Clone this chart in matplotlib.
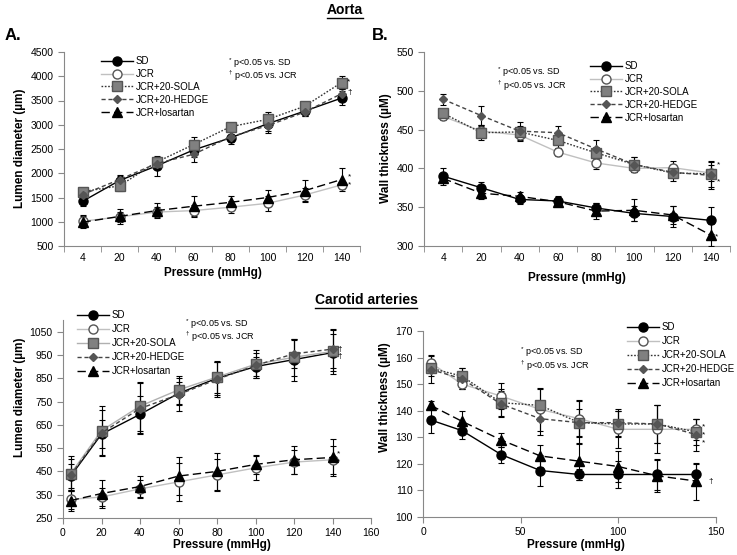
import matplotlib
matplotlib.use("Agg")
import matplotlib.pyplot as plt
import numpy as np
from matplotlib.lines import Line2D

plt.rcParams['font.family'] = ['Liberation Sans', 'DejaVu Sans']
plt.rcParams['mathtext.fontset'] = 'custom'
plt.rcParams['mathtext.rm'] = 'Liberation Sans'

W, H = 737, 555

groups = ["SD", "JCR", "JCR+20-SOLA", "JCR+20-HEDGE", "JCR+losartan"]
pressure_labels = ["4", "20", "40", "60", "80", "100", "120", "140"]
pressure = [4, 20, 40, 60, 80, 100, 120, 140]

# aorta lumen diameter (um)
aorta_lumen = {
    "SD": [1420, 1850, 2150, 2480, 2730, 3020, 3280, 3550],
    "JCR": [1010, 1100, 1200, 1230, 1300, 1380, 1550, 1760],
    "JCR+20-SOLA": [1620, 1740, 2230, 2590, 2960, 3110, 3380, 3870],
    "JCR+20-HEDGE": [1560, 1870, 2200, 2390, 2750, 2980, 3260, 3640],
    "JCR+losartan": [990, 1110, 1230, 1320, 1400, 1500, 1640, 1870],
}
aorta_lumen_err = {
    "SD": [100, 100, 200, 150, 120, 150, 100, 150],
    "JCR": [120, 100, 100, 120, 120, 160, 150, 80],
    "JCR+20-SOLA": [60, 100, 80, 150, 60, 150, 60, 140],
    "JCR+20-HEDGE": [60, 100, 80, 150, 100, 150, 80, 100],
    "JCR+losartan": [120, 150, 150, 220, 130, 150, 220, 230],
}

# aorta wall thickness
aorta_wall = {
    "SD": [390, 375, 360, 358, 349, 342, 338, 333],
    "JCR": [467, 448, 443, 421, 407, 400, 401, 394],
    "JCR+20-SOLA": [471, 446, 447, 436, 420, 405, 394, 393],
    "JCR+20-HEDGE": [489, 468, 448, 446, 425, 405, 395, 391],
    "JCR+losartan": [387, 368, 364, 357, 345, 346, 340, 314],
}
aorta_wall_err = {
    "SD": [11, 7, 6, 7, 7, 10, 14, 17],
    "JCR": [5, 8, 8, 5, 8, 5, 8, 10],
    "JCR+20-SOLA": [5, 10, 8, 10, 8, 10, 10, 17],
    "JCR+20-HEDGE": [7, 13, 12, 8, 11, 10, 8, 17],
    "JCR+losartan": [6, 8, 6, 6, 10, 14, 12, 14],
}

# carotid lumen diameter
carotid_lumen = {
    "SD": [430, 610, 695, 785, 850, 900, 930, 960],
    "JCR": [330, 340, 375, 405, 435, 465, 490, 500],
    "JCR+20-SOLA": [440, 625, 730, 800, 855, 910, 940, 965],
    "JCR+20-HEDGE": [435, 615, 720, 780, 845, 905, 955, 975],
    "JCR+losartan": [325, 355, 385, 430, 450, 480, 500, 510],
}
carotid_lumen_err = {
    "SD": [50, 60, 80, 50, 70, 40, 90, 80],
    "JCR": [40, 40, 40, 80, 70, 50, 50, 60],
    "JCR+20-SOLA": [75, 105, 105, 60, 70, 60, 80, 95],
    "JCR+20-HEDGE": [70, 100, 110, 70, 75, 55, 60, 80],
    "JCR+losartan": [45, 60, 45, 80, 80, 40, 60, 80],
}

# carotid wall thickness
carotid_wall = {
    "SD": [136.5, 132.5, 123.5, 117.5, 116, 116, 116, 116],
    "JCR": [158, 150, 145.5, 140.5, 137, 133, 133, 133],
    "JCR+20-SOLA": [156, 153, 143, 142, 135.5, 135, 135, 132],
    "JCR+20-HEDGE": [155.5, 152, 142.5, 137, 135.5, 135.5, 135, 131],
    "JCR+losartan": [142, 136, 129, 123, 121, 119, 115.5, 113.5],
}
carotid_wall_err = {
    "SD": [5, 3, 3, 6, 2, 5, 6, 4],
    "JCR": [3, 2, 5, 8, 7, 7, 9, 4],
    "JCR+20-SOLA": [3, 3, 5, 6, 8, 5, 7, 5],
    "JCR+20-HEDGE": [5, 4, 5, 6, 5, 5, 7, 6],
    "JCR+losartan": [1.5, 4, 2.5, 4, 7, 6, 6, 7],
}

styles = {
    "SD": dict(color="black", ls="-", lw=1.0, marker="o", ms=6.5, mfc="black", mec="black"),
    "JCR": dict(color="#c0c0c0", ls="-", lw=1.0, marker="o", ms=6.5, mfc="white", mec="#555555"),
    "JCR+20-SOLA": dict(color="#333333", ls=(0, (1.2, 1.2)), lw=1.0, marker="s", ms=6.5, mfc="#808080", mec="#555555"),
    "JCR+20-HEDGE": dict(color="#444444", ls=(0, (3, 2)), lw=1.0, marker="D", ms=4.5, mfc="#555555", mec="#555555"),
    "JCR+losartan": dict(color="black", ls=(0, (6, 3)), lw=1.0, marker="^", ms=6.5, mfc="black", mec="black"),
}


def px_axes(l, t, r, b):
    return fig.add_axes([l / W, 1 - b / H, (r - l) / W, (b - t) / H])


def style_axes(ax):
    for s in ["top", "right"]:
        ax.spines[s].set_visible(False)
    for s in ["left", "bottom"]:
        ax.spines[s].set_color("#888888")
        ax.spines[s].set_linewidth(0.8)
    ax.tick_params(direction="out", length=4, color="#888888", labelsize=7.5, width=0.8)


def get_style(g, carotid_sola):
    st = dict(styles[g])
    if carotid_sola and g == "JCR+20-SOLA":
        st["color"] = "#b0b0b0"
        st["ls"] = "-"
    return st


def draw_series(ax, x, data, err, carotid_sola=False):
    for g in groups:
        st = get_style(g, carotid_sola)
        ax.errorbar(x, data[g], yerr=err[g], ecolor="black", elinewidth=0.8,
                    capsize=2.5, capthick=0.8, zorder=3, **st)


def add_legend(ax, x, y, spacing=0.3, carotid_sola=False):
    handles = [Line2D([], [], **get_style(g, carotid_sola)) for g in groups]
    ax.legend(handles, groups, loc="upper left", bbox_to_anchor=(x / W, 1 - y / H),
              bbox_transform=fig.transFigure, frameon=False, fontsize=7, numpoints=1,
              handlelength=3.3, handletextpad=0.3, labelspacing=spacing, borderaxespad=0,
              borderpad=0)


def sig_text(ax, x, y, s):
    ax.text(x, y, s, fontsize=6, ha="left", va="center", zorder=5)


def note(ax, x, y, gap):
    ax.text(x, y, r"$^{*}$ p<0.05 vs. SD", transform=ax.transAxes, fontsize=6.5, va="center")
    ax.text(x, y - gap, r"$^{\dagger}$ p<0.05 vs. JCR", transform=ax.transAxes, fontsize=6.5, va="center")


fig = plt.figure(figsize=(W / 100, H / 100), dpi=100)

# --- A: aorta lumen
axA = px_axes(64, 52, 360, 246)
xc = np.arange(len(pressure_labels))
draw_series(axA, xc, aorta_lumen, aorta_lumen_err)
axA.set_xlim(-0.5, 7.5)
axA.set_ylim(500, 4500)
axA.set_yticks(np.arange(500, 4501, 500))
axA.set_xticks(xc)
axA.set_xticklabels(pressure_labels)
axA.set_xticks(np.arange(-0.5, 8, 1), minor=True)
style_axes(axA)
axA.tick_params(axis="x", which="major", length=0, pad=5)
axA.tick_params(axis="x", which="minor", length=4, color="#888888")
add_legend(axA, 101, 56)
note(axA, 0.555, 0.945, 0.068)
sig_text(axA, 7.15, 3880, "*")
sig_text(axA, 7.15, 3660, "†")
sig_text(axA, 7.18, 1920, "*")
sig_text(axA, 7.18, 1760, "*")

# --- B: aorta wall
axB = px_axes(424, 52, 730, 246)
draw_series(axB, xc, aorta_wall, aorta_wall_err)
axB.set_xlim(-0.5, 7.5)
axB.set_ylim(300, 550)
axB.set_yticks(np.arange(300, 551, 50))
axB.set_xticks(xc)
axB.set_xticklabels(pressure_labels)
axB.set_xticks(np.arange(-0.5, 8, 1), minor=True)
style_axes(axB)
axB.tick_params(axis="x", which="major", length=0, pad=5)
axB.tick_params(axis="x", which="minor", length=4, color="#888888")
add_legend(axB, 590, 61)
note(axB, 0.24, 0.895, 0.068)
sig_text(axB, 7.15, 404, "*")
sig_text(axB, 7.15, 382, "*")
sig_text(axB, 7.1, 312, "*")

# --- C: carotid lumen
axC = px_axes(63, 320, 371, 518)
draw_series(axC, pressure, carotid_lumen, carotid_lumen_err, carotid_sola=True)
axC.set_xlim(0, 160)
axC.set_ylim(250, 1100)
axC.set_yticks(np.arange(250, 1051, 100))
axC.set_xticks(np.arange(0, 161, 20))
style_axes(axC)
add_legend(axC, 77, 310, spacing=0.42, carotid_sola=True)
note(axC, 0.395, 0.98, 0.067)
sig_text(axC, 142.5, 975, "†")
sig_text(axC, 142.5, 942, "†")
sig_text(axC, 142.5, 524, "*")
sig_text(axC, 142.5, 490, "*")

# --- D: carotid wall
axD = px_axes(423, 331, 716, 517)
draw_series(axD, pressure, carotid_wall, carotid_wall_err)
axD.set_xlim(0, 150)
axD.set_ylim(100, 170)
axD.set_yticks(np.arange(100, 171, 10))
axD.set_xticks(np.arange(0, 151, 50))
style_axes(axD)
add_legend(axD, 627, 322, spacing=0.42)
note(axD, 0.331, 0.887, 0.075)
sig_text(axD, 143, 134, "*")
sig_text(axD, 143, 131, "*")
sig_text(axD, 143, 128, "*")
sig_text(axD, 146, 113.5, "†")

# labels and titles
def ftext(x, y, s, **kw):
    return fig.text(x / W, 1 - y / H, s, **kw)

ftext(213, 273, "Pressure (mmHg)", ha="center", va="center", fontsize=8.5, fontweight="bold")
ftext(577, 278, "Pressure (mmHg)", ha="center", va="center", fontsize=8.5, fontweight="bold")
ftext(222, 545, "Pressure (mmHg)", ha="center", va="center", fontsize=8.5, fontweight="bold")
ftext(576, 545, "Pressure (mmHg)", ha="center", va="center", fontsize=8.5, fontweight="bold")
ftext(20, 148, "Lumen diameter (µm)", ha="center", va="center", rotation=90, fontsize=8.5, fontweight="bold")
ftext(386, 148, "Wall thickness (µM)", ha="center", va="center", rotation=90, fontsize=8.5, fontweight="bold")
ftext(20, 397, "Lumen diameter (µm)", ha="center", va="center", rotation=90, fontsize=8.5, fontweight="bold")
ftext(385, 397, "Wall thickness (µM)", ha="center", va="center", rotation=90, fontsize=8.5, fontweight="bold")
ftext(5, 36, "A.", ha="left", va="center", fontsize=12, fontweight="bold")
ftext(372, 36, "B.", ha="left", va="center", fontsize=12, fontweight="bold")
titles = [ftext(345, 10, "Aorta", ha="center", va="center", fontsize=10, fontweight="bold"),
          ftext(366, 300, "Carotid arteries", ha="center", va="center", fontsize=10, fontweight="bold")]

# underline titles
fig.canvas.draw()
r = fig.canvas.get_renderer()
for t in titles:
    bb = t.get_window_extent(r).transformed(fig.transFigure.inverted())
    fig.add_artist(Line2D([bb.x0, bb.x1], [bb.y0 - 0.002, bb.y0 - 0.002], color="black", lw=1.0,
                          transform=fig.transFigure))

fig.savefig("out.png", dpi=100)
